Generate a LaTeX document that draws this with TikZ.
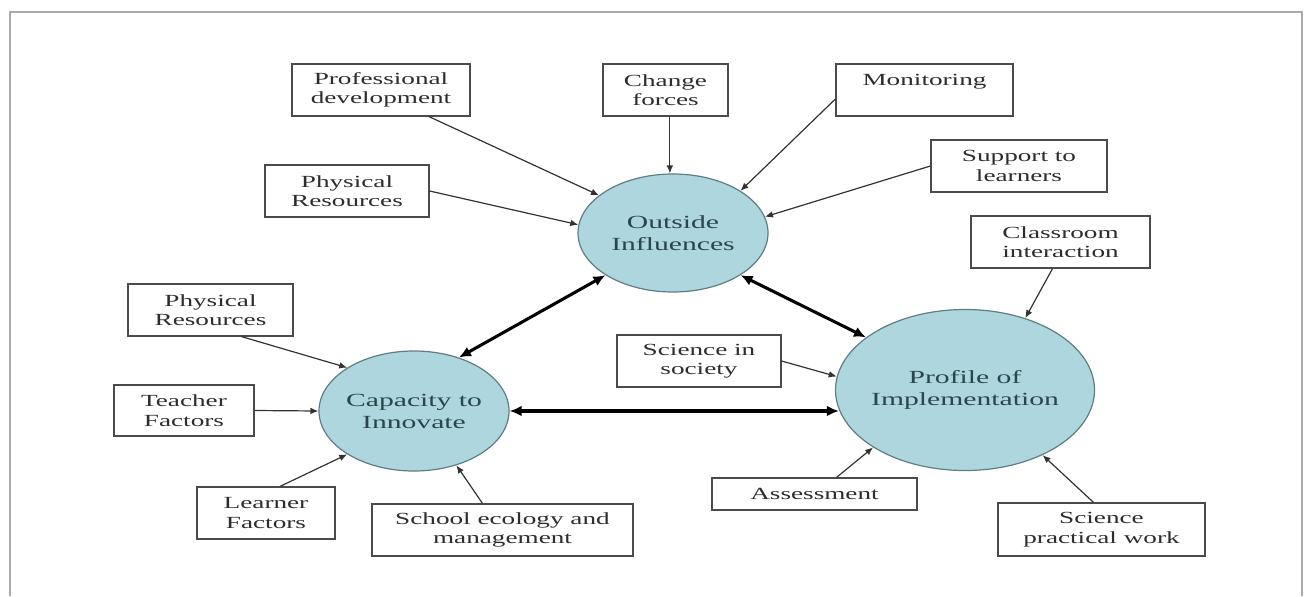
\documentclass[tikz,border=0pt]{standalone}
\usepackage{fontspec}
\setmainfont{Liberation Serif}
\newfontfamily\wideserif[FakeStretch=1.6]{Liberation Serif}
\usetikzlibrary{shapes.geometric,arrows.meta,calc}
\definecolor{circfill}{RGB}{174,214,222}
\definecolor{circline}{RGB}{95,125,130}
\definecolor{circtext}{RGB}{40,70,75}
\definecolor{boxline}{RGB}{75,75,75}
\definecolor{boxtext}{RGB}{45,45,45}
\definecolor{framegray}{RGB}{170,170,170}
\begin{document}
\begin{tikzpicture}[x=0.75pt,y=-0.75pt,
  wh/.style 2 args={minimum width=#1*0.75pt, minimum height=#2*0.75pt},
  factor/.style={draw=boxline, line width=0.9pt, fill=white, inner sep=0pt, align=center,
    font=\wideserif\fontsize{12.75}{14.6}\selectfont, text=boxtext},
  hub/.style={ellipse, draw=circline, line width=0.9pt, fill=circfill, inner sep=0pt},
  hubtext/.style={align=center, font=\wideserif\fontsize{13.9}{16.5}\selectfont, text=circtext},
  feed/.style={draw=black!80, line width=0.9pt, -{Latex[length=6pt,width=5pt]}},
  link/.style={draw=black, line width=2.3pt, {Latex[length=9pt,width=8pt]}-{Latex[length=9pt,width=8pt]}}
]
\useasboundingbox (0,0) rectangle (1308,596);
\draw[framegray, line width=1.5pt] (10,596) -- (10,12) -- (1302,12) -- (1302,596);

% factor boxes
\node[factor, wh={178}{52}] (prof) at (381,90) {Professional\\development};
\node[factor, wh={125}{52}] (change) at (665.5,90) {Change\\forces};
\node[factor, wh={177}{52}] (monit) at (924.5,90) {Monitoring\\\phantom{M}};
\node[factor, wh={176}{52}] (support) at (1019,166) {Support to\\learners};
\node[factor, wh={164}{52}] (phystop) at (347,191) {Physical\\Resources};
\node[factor, wh={179}{52}] (classroom) at (1060.5,242) {Classroom\\interaction};
\node[factor, wh={165}{52}] (physleft) at (210.5,310) {Physical\\Resources};
\node[factor, wh={140}{51}] (teacher) at (184,410.5) {Teacher\\Factors};
\node[factor, wh={138}{52}] (learner) at (266,513) {Learner\\Factors};
\node[factor, wh={261}{52}] (school) at (502.5,530) {School ecology and\\management};
\node[factor, wh={164}{52}] (society) at (699,361) {Science in\\society};
\node[factor, wh={205}{32}] (assess) at (814.5,494) {Assessment};
\node[factor, wh={207}{53}] (practical) at (1101.5,529.5) {Science\\practical work};

% hubs
\node[hub, wh={190}{118}, label={[hubtext]center:Outside\\Influences}] (outside) at (673,233) {};
\node[hub, wh={190}{120}, label={[hubtext]center:Capacity to\\Innovate}] (capacity) at (414,411) {};
\node[hub, wh={259}{161}, label={[hubtext]center:Profile of\\Implementation}] (profile) at (965,390) {};

% thin arrows
\draw[feed] ($(prof.south)+(48,0)$) -- (outside.153);
\draw[feed] (phystop.east) -- (outside.175);
\draw[feed] (change.south -| outside.93) -- (outside.93);
\draw[feed] ($(monit.west)+(0,9)$) -- (outside.32);
\draw[feed] (support.west) -- (outside.10);
\draw[feed] ($(classroom.south)+(-8,0)$) -- (profile.50);
\draw[feed] ($(physleft.south)+(31,0)$) -- (capacity.147);
\draw[feed] (teacher.east) -- (capacity.west);
\draw[feed] ($(learner.north)+(14,0)$) -- (capacity.213);
\draw[feed] ($(school.north)+(-20,0)$) -- (capacity.308);
\draw[feed] (society.east) -- (profile.174);
\draw[feed] ($(assess.north)+(22,0)$) -- (profile.212);
\draw[feed] ($(practical.north)+(-8,0)$) -- (profile.320);

% thick two-way arrows
\draw[link] (outside.212) -- (capacity.50);
\draw[link] (outside.328) -- (profile.152);
\draw[link] (capacity.east) -- (capacity.east -| profile.189);
\end{tikzpicture}
\end{document}
